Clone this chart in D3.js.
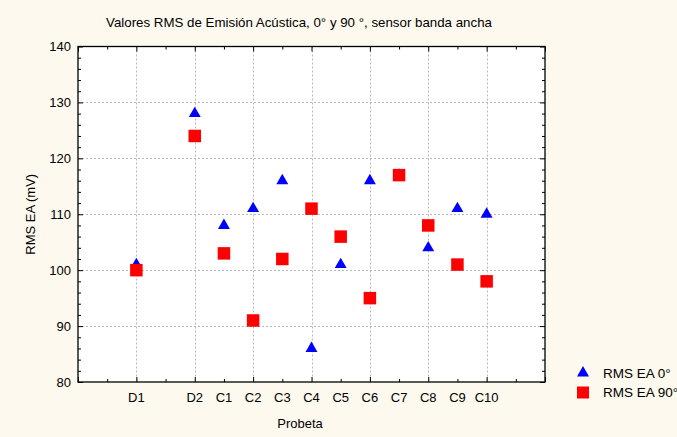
<!DOCTYPE html>
<html>
<head>
<meta charset="utf-8">
<script src="https://cdn.jsdelivr.net/npm/d3@7"></script>
<style>
  html, body { margin: 0; padding: 0; background: #fdf9ee; }
  svg { display: block; }
  text { font-family: "Liberation Sans", Arial, sans-serif; fill: #000; }
</style>
</head>
<body>
<svg id="chart" width="677" height="437"></svg>
<script>
// Data
const categories = ["D1", "D2", "C1", "C2", "C3", "C4", "C5", "C6", "C7", "C8", "C9", "C10"];
const categoryPositions = [2, 4, 5, 6, 7, 8, 9, 10, 11, 12, 13, 14];
const rms0 = [101, 128, 108, 111, 116, 86, 101, 116, 117, 104, 111, 110];
const rms90 = [100, 124, 103, 91, 102, 111, 106, 95, 117, 108, 101, 98];
const seriesNames = ["RMS EA 0°", "RMS EA 90°"];
const yTicks = [80, 90, 100, 110, 120, 130, 140];
const titleText = "Valores RMS de Emisión Acústica, 0° y 90 °, sensor banda ancha";
const xLabel = "Probeta";
const yLabel = "RMS EA (mV)";

const svg = d3.select("#chart");
const pLeft = 78, pRight = 545, pTop = 46.5, pBottom = 382;

const x = d3.scaleLinear().domain([0, 16]).range([pLeft, pRight]);
const y = d3.scaleLinear().domain([80, 140]).range([pBottom, pTop]);

// plot background
svg.append("rect").attr("x", pLeft).attr("y", pTop)
  .attr("width", pRight - pLeft).attr("height", pBottom - pTop).attr("fill", "#fff");

// gridlines
const g = svg.append("g");
const xMajor = d3.range(2, 16, 2);
g.selectAll("line.vg").data(xMajor).join("line")
  .attr("x1", d => Math.round(x(d)) + 0.5).attr("x2", d => Math.round(x(d)) + 0.5)
  .attr("y1", pTop).attr("y2", pBottom)
  .attr("stroke", "#b8b8b8").attr("stroke-dasharray", "2,2").attr("stroke-width", 1);
g.selectAll("line.hg").data(yTicks.slice(1, -1)).join("line")
  .attr("y1", d => Math.round(y(d)) + 0.5).attr("y2", d => Math.round(y(d)) + 0.5)
  .attr("x1", pLeft).attr("x2", pRight)
  .attr("stroke", "#b8b8b8").attr("stroke-dasharray", "2,2").attr("stroke-width", 1);

function axisStyle(sel) {
  sel.select(".domain").remove();
  sel.selectAll("line").attr("stroke", "#000");
}
const xMajorAll = d3.range(0, 17, 2);
const xMinor = d3.range(1, 16, 2);
const yMinor = d3.range(80, 141, 2).filter(v => v % 10 !== 0);

svg.append("g").attr("transform", `translate(0,${pBottom})`)
  .call(d3.axisBottom(x).tickValues(xMajorAll).tickSize(-5).tickFormat(""))
  .call(axisStyle);
svg.append("g").attr("transform", `translate(0,${pBottom})`)
  .call(d3.axisBottom(x).tickValues(xMinor).tickSize(-3).tickFormat(""))
  .call(axisStyle);
svg.append("g").attr("transform", `translate(0,${pTop})`)
  .call(d3.axisTop(x).tickValues(xMajorAll).tickSize(-5).tickFormat(""))
  .call(axisStyle);
svg.append("g").attr("transform", `translate(0,${pTop})`)
  .call(d3.axisTop(x).tickValues(xMinor).tickSize(-3).tickFormat(""))
  .call(axisStyle);
svg.append("g").attr("transform", `translate(${pLeft},0)`)
  .call(d3.axisLeft(y).tickValues(yTicks).tickSize(-5).tickFormat(""))
  .call(axisStyle);
svg.append("g").attr("transform", `translate(${pLeft},0)`)
  .call(d3.axisLeft(y).tickValues(yMinor).tickSize(-3).tickFormat(""))
  .call(axisStyle);
svg.append("g").attr("transform", `translate(${pRight},0)`)
  .call(d3.axisRight(y).tickValues(yTicks).tickSize(-5).tickFormat(""))
  .call(axisStyle);
svg.append("g").attr("transform", `translate(${pRight},0)`)
  .call(d3.axisRight(y).tickValues(yMinor).tickSize(-3).tickFormat(""))
  .call(axisStyle);

// frame
svg.append("rect").attr("x", pLeft).attr("y", pTop)
  .attr("width", pRight - pLeft).attr("height", pBottom - pTop)
  .attr("fill", "none").attr("stroke", "#000").attr("stroke-width", 1.3);

// tick labels
svg.append("g").selectAll("text").data(yTicks).join("text")
  .attr("x", pLeft - 7).attr("y", d => y(d)).attr("dy", "0.35em")
  .attr("text-anchor", "end").attr("font-size", 13).text(d => d);
svg.append("g").selectAll("text").data(categories).join("text")
  .attr("x", (d, i) => x(categoryPositions[i])).attr("y", pBottom + 15)
  .attr("dy", "0.35em").attr("text-anchor", "middle").attr("font-size", 13).text(d => d);

// labels
svg.append("text").attr("x", 300).attr("y", 423).attr("dy", "0.35em")
  .attr("text-anchor", "middle").attr("font-size", 13).text(xLabel);
svg.append("text").attr("transform", `translate(30,${(pTop + pBottom) / 2}) rotate(-90)`)
  .attr("dy", "0.35em").attr("text-anchor", "middle").attr("font-size", 13).text(yLabel);
svg.append("text").attr("x", 299).attr("y", 22).attr("dy", "0.35em")
  .attr("text-anchor", "middle").attr("font-size", 13.3).text(titleText);

// markers
const triSym = d3.symbol().type(d3.symbolTriangle).size(62);
const sqSize = 12.5;
svg.append("g").selectAll("path").data(rms0).join("path")
  .attr("d", triSym)
  .attr("transform", (d, i) => `translate(${x(categoryPositions[i])},${y(d)})`)
  .attr("fill", "#0000ff");
svg.append("g").selectAll("rect").data(rms90).join("rect")
  .attr("x", (d, i) => x(categoryPositions[i]) - sqSize / 2)
  .attr("y", d => y(d) - sqSize / 2)
  .attr("width", sqSize).attr("height", sqSize)
  .attr("fill", "#ff0000");

// legend
const leg = svg.append("g");
leg.append("path").attr("d", triSym).attr("transform", "translate(583,373)").attr("fill", "#0000ff");
leg.append("rect").attr("x", 577).attr("y", 386.5).attr("width", 12).attr("height", 12).attr("fill", "#ff0000");
leg.append("text").attr("x", 603).attr("y", 373).attr("dy", "0.35em").attr("font-size", 13.5).text(seriesNames[0]);
leg.append("text").attr("x", 603).attr("y", 392).attr("dy", "0.35em").attr("font-size", 13.5).text(seriesNames[1]);
</script>
</body>
</html>
